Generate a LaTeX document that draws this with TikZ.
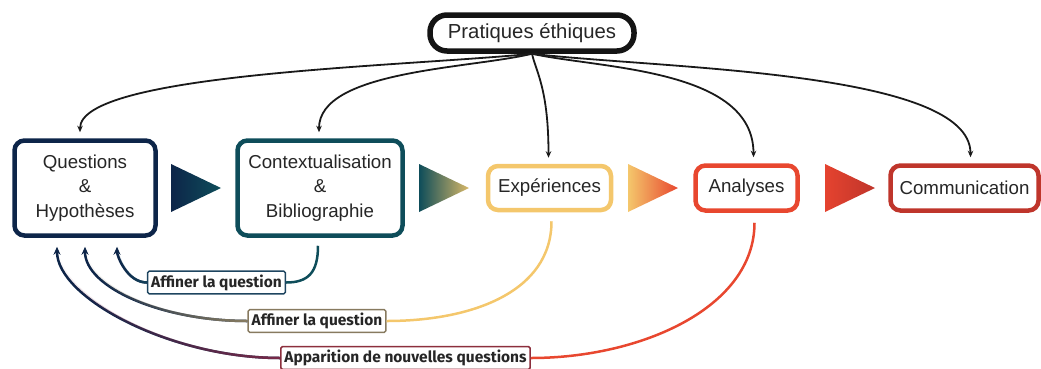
\documentclass[tikz,border=0pt]{standalone}
\usepackage{fontspec}
\setmainfont{Liberation Sans}
\newfontfamily\tagfont{Fira Sans}
\usetikzlibrary{positioning,arrows.meta,fadings}

\definecolor{qhcol}{HTML}{0D2549}
\definecolor{cbcol}{HTML}{0E4D5A}
\definecolor{excol}{HTML}{F4C76C}
\definecolor{ancol}{HTML}{E8472F}
\definecolor{cocol}{HTML}{BF352B}
\definecolor{tri2end}{HTML}{D8B868}
\definecolor{tri4start}{HTML}{E5432F}
\definecolor{mid1}{HTML}{15445C}
\definecolor{mid2}{HTML}{8A7E62}
\definecolor{mid3}{HTML}{7A2A48}
\definecolor{tag1}{HTML}{1E4560}
\definecolor{tag2}{HTML}{877A5F}
\definecolor{tag3}{HTML}{8C2F3D}
\tikzfading[name=fadeleft, left color=transparent!100, right color=transparent!0]

\begin{document}
\begin{tikzpicture}[x=1pt,y=-1pt,on grid,
  every node/.style={font=\fontsize{18.7}{24.5}\selectfont, text=black!85},
  stage/.style={rounded corners=10pt, line width=4.5pt, fill=white, align=center, inner sep=0pt},
  tip/.style={-{Stealth[length=6.5pt,width=5.5pt]}, line width=1.8pt, black!90, shorten >=6pt},
  back/.style={line width=2.5pt},
  backtip/.style={back, -{Stealth[length=8pt,width=7pt]}, shorten >=9pt},
  tag/.style={fill=white, line width=1.5pt, rounded corners=1.5pt, inner xsep=3.5pt, minimum height=20pt,
    font=\tagfont\bfseries\fontsize{15.5}{15.5}\selectfont}]
  \useasboundingbox (0,0) rectangle (1041,368);

  % etapes
  \node[stage,draw=qhcol,minimum width=141pt,minimum height=95pt] (qh) at (85,188) {Questions\\\&\\Hypothèses};
  \node[stage,draw=cbcol,minimum width=165pt,minimum height=95pt] (cb) [right=235pt of qh] {Contextualisation\\\&\\Bibliographie};
  \node[stage,draw=excol,minimum width=123pt,minimum height=44pt] (ex) [right=229.5pt of cb] {Expériences};
  \node[stage,draw=ancol,minimum width=102pt,minimum height=45pt] (an) [right=197pt of ex] {Analyses};
  \node[stage,draw=cocol,minimum width=148pt,minimum height=45pt] (co) [right=218pt of an] {Communication};
  \node[stage,draw=black!92,rounded corners=17pt,line width=5.5pt,minimum width=204pt,minimum height=36pt,
    font=\fontsize{20.3}{24}\selectfont] (pe) at (532,33) {Pratiques éthiques};

  % fleches entre les etapes
  \foreach \x/\a/\b in {171/qhcol/cbcol, 419/cbcol/tri2end, 628/excol/ancol, 825/tri4start/cocol}
    \shade[left color=\a, right color=\b] (\x,164) -- ++(50,24) -- ++(-50,24) -- cycle;

  \draw[tip] (pe.south) .. controls +(-132,13) and +(0,-65) .. ([xshift=-5pt]qh.north);
  \draw[tip] (pe.south) .. controls +(-62,15) and +(0,-68) .. ([xshift=-1pt]cb.north);
  \draw[tip] (pe.south) .. controls +(4,18) and +(0,-75) .. ([xshift=-1pt]ex.north);
  \draw[tip] (pe.south) .. controls +(68,15) and +(0,-95) .. ([xshift=7pt]an.north);
  \draw[tip] (pe.south) .. controls +(128,15) and +(0,-93) .. ([xshift=6pt]co.north);

  % retours
  \node[tag,draw=tag1] (l1) at (216.5,282.5) {Affiner la question};
  \node[tag,draw=tag2] (l2) at (317,321) {Affiner la question};
  \node[tag,draw=tag3] (l3) at (405.5,358) {Apparition de nouvelles questions};

  \draw[back,cbcol,shorten <=8pt] ([xshift=-2pt]cb.south) .. controls +(0,35) and +(22,0) .. (l1.east);
  \draw[backtip,qhcol] (l1.west) .. controls +(-20,0) and +(0,18) .. ([xshift=32pt]qh.south);
  \draw[back,mid1,shorten >=9pt,path fading=fadeleft] (l1.west) .. controls +(-20,0) and +(0,18) .. ([xshift=32pt]qh.south);

  \draw[back,excol,shorten <=9pt] ([xshift=2pt]ex.south) .. controls +(0,80) and +(85,0) .. (l2.east);
  \draw[backtip,qhcol] (l2.west) .. controls +(-85,0) and +(0,50) .. (qh.south);
  \draw[back,mid2,shorten >=9pt,path fading=fadeleft] (l2.west) .. controls +(-85,0) and +(0,50) .. (qh.south);

  \draw[back,ancol,shorten <=10pt] ([xshift=8pt]an.south) .. controls +(0,95) and +(110,0) .. (l3.east);
  \draw[backtip,qhcol] (l3.west) .. controls +(-110,0) and +(0,60) .. ([xshift=-28pt]qh.south);
  \draw[back,mid3,shorten >=9pt,path fading=fadeleft] (l3.west) .. controls +(-110,0) and +(0,60) .. ([xshift=-28pt]qh.south);
\end{tikzpicture}
\end{document}
